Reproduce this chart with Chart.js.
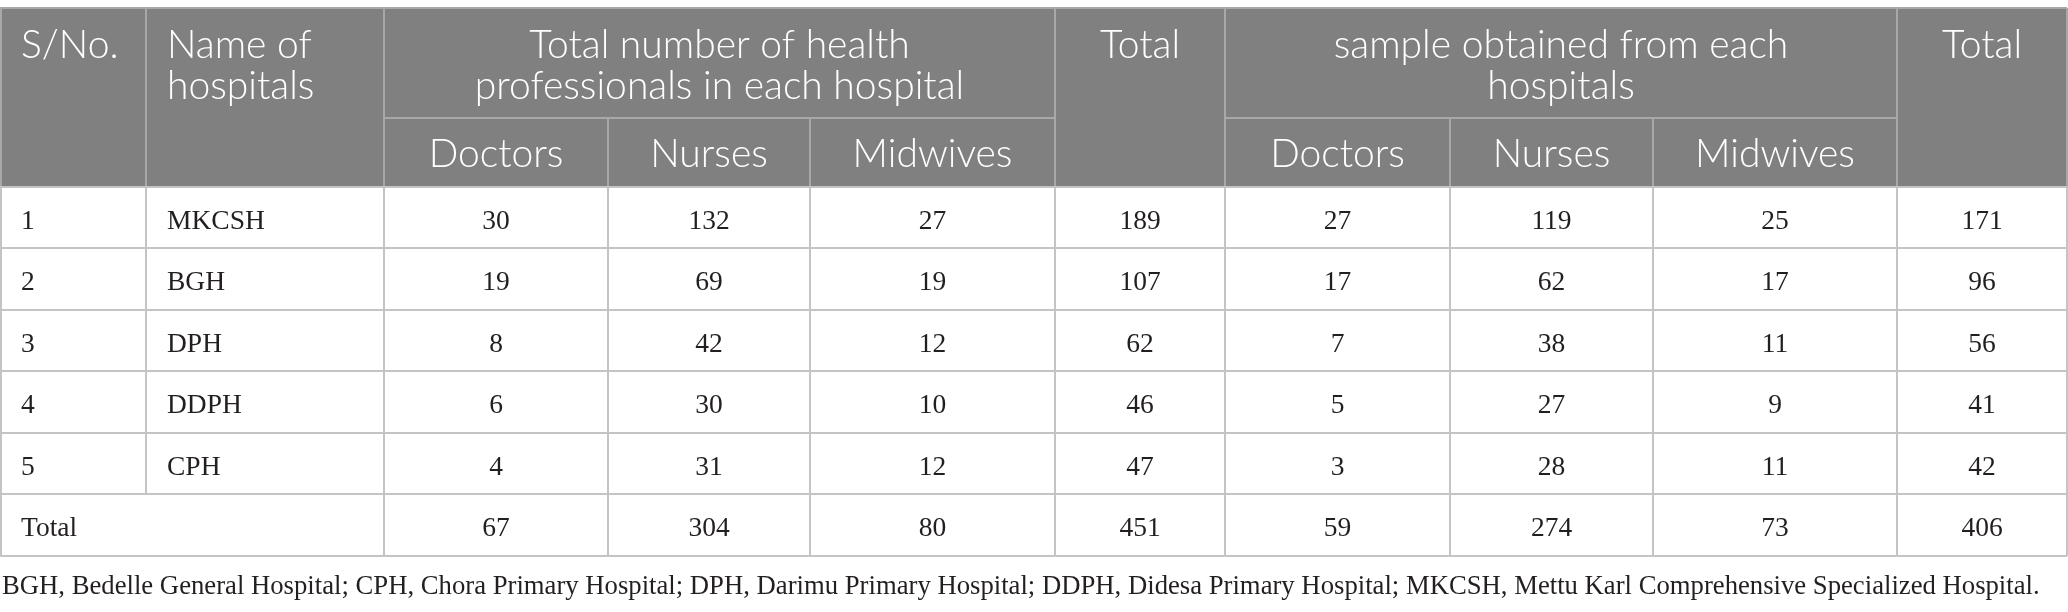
<!DOCTYPE html>
<html>
<head>
<meta charset="utf-8">
<script src="https://cdn.jsdelivr.net/npm/chart.js@4.4.1/dist/chart.umd.min.js"></script>
<style>
  html, body { margin: 0; padding: 0; background: #ffffff; }
  #wrap { width: 2068px; height: 612px; position: relative; }
</style>
</head>
<body>
<div id="wrap"><canvas id="c"></canvas></div>
<script>
// ---------------- DATA ----------------
const serialNos      = ['1', '2', '3', '4', '5'];
const hospitals      = ['MKCSH', 'BGH', 'DPH', 'DDPH', 'CPH'];
const staffDoctors   = [30, 19, 8, 6, 4];
const staffNurses    = [132, 69, 42, 30, 31];
const staffMidwives  = [27, 19, 12, 10, 12];
const staffTotal     = [189, 107, 62, 46, 47];
const sampleDoctors  = [27, 17, 7, 5, 3];
const sampleNurses   = [119, 62, 38, 27, 28];
const sampleMidwives = [25, 17, 11, 9, 11];
const sampleTotal    = [171, 96, 56, 41, 42];
const totalLabel     = 'Total';
const totalsRow      = [67, 304, 80, 451, 59, 274, 73, 406];
const headSerial     = 'S/No.';
const headName       = ['Name of', 'hospitals'];
const headStaff      = ['Total number of health', 'professionals in each hospital'];
const headTotal      = 'Total';
const headSample     = ['sample obtained from each', 'hospitals'];
const subHeaders     = ['Doctors', 'Nurses', 'Midwives'];
const footnote       = 'BGH, Bedelle General Hospital; CPH, Chora Primary Hospital; DPH, Darimu Primary Hospital; DDPH, Didesa Primary Hospital; MKCSH, Mettu Karl Comprehensive Specialized Hospital.';

// ---------------- LAYOUT (scale units) ----------------
const colEdges = [0, 146, 384, 608, 810, 1055, 1225, 1450, 1653, 1897, 2067];
const rowEdges = [8, 118, 187, 248, 310, 371, 433, 494, 556];

const HEADER_BG = '#7f807f';
const HEADER_LINE = '#a7a8a7';
const BODY_LINE = '#c4c4c4';
const BODY_TEXT = '#231f20';
const HEAD_FONT = '300 39px Lato';
const BODY_FONT = '27.5px "Liberation Serif"';
const FOOT_FONT = '26.7px "Liberation Serif"';

const tablePlugin = {
  id: 'tablePlugin',
  afterDraw(chart) {
    const ctx = chart.ctx;
    const xs = chart.scales.x, ys = chart.scales.y;
    const X = v => xs.getPixelForValue(v);
    const Y = v => ys.getPixelForValue(v);
    const C = i => X(colEdges[i]);
    const R = i => Y(rowEdges[i]);
    ctx.save();

    // header background
    ctx.fillStyle = HEADER_BG;
    ctx.fillRect(C(0), R(0), C(10) - C(0), R(2) - R(0));

    const line = (x1, y1, x2, y2, color, w) => {
      ctx.strokeStyle = color; ctx.lineWidth = w;
      ctx.beginPath(); ctx.moveTo(x1, y1); ctx.lineTo(x2, y2); ctx.stroke();
    };

    // header lines
    line(C(0), R(0), C(10), R(0), HEADER_LINE, 2);
    [1, 2, 5, 6, 9].forEach(i => line(C(i), R(0), C(i), R(2), HEADER_LINE, 2));
    [3, 4, 7, 8].forEach(i => line(C(i), R(1), C(i), R(2), HEADER_LINE, 2));
    line(C(2), R(1), C(5), R(1), HEADER_LINE, 2);
    line(C(6), R(1), C(9), R(1), HEADER_LINE, 2);
    line(C(0) + 1, R(0), C(0) + 1, R(2), HEADER_LINE, 2);
    line(C(10), R(0), C(10), R(2), HEADER_LINE, 2);

    // body lines
    for (let r = 2; r < rowEdges.length; r++) line(C(0), R(r), C(10), R(r), BODY_LINE, 2);
    for (let c = 0; c < colEdges.length; c++) {
      const x = c === 0 ? C(0) + 1 : C(c);
      if (c === 1) line(x, R(2), x, R(7), BODY_LINE, 2);
      else line(x, R(2), x, R(8), BODY_LINE, 2);
    }

    // header text
    ctx.fillStyle = '#ffffff';
    ctx.font = HEAD_FONT;
    ctx.textBaseline = 'alphabetic';
    const l1 = Y(58), l2 = Y(99), sub = Y(167);
    ctx.textAlign = 'left';
    ctx.fillText(headSerial, C(0) + 21, l1);
    ctx.fillText(headName[0], C(1) + 21, l1);
    ctx.fillText(headName[1], C(1) + 21, l2);
    ctx.textAlign = 'center';
    const mid = (a, b) => (C(a) + C(b)) / 2;
    ctx.fillText(headStaff[0], mid(2, 5), l1);
    ctx.fillText(headStaff[1], mid(2, 5), l2);
    ctx.fillText(headTotal, mid(5, 6), l1);
    ctx.fillText(headSample[0], mid(6, 9), l1);
    ctx.fillText(headSample[1], mid(6, 9), l2);
    ctx.fillText(headTotal, mid(9, 10), l1);
    subHeaders.forEach((s, k) => {
      ctx.fillText(s, mid(2 + k, 3 + k), sub);
      ctx.fillText(s, mid(6 + k, 7 + k), sub);
    });

    // body text
    ctx.fillStyle = BODY_TEXT;
    ctx.font = BODY_FONT;
    const base = r => (R(r) + R(r + 1)) / 2 + 11;
    hospitals.forEach((h, i) => {
      const y = base(2 + i);
      ctx.textAlign = 'left';
      ctx.fillText(serialNos[i], C(0) + 21, y);
      ctx.fillText(h, C(1) + 21, y);
      ctx.textAlign = 'center';
      const vals = [staffDoctors[i], staffNurses[i], staffMidwives[i], staffTotal[i],
                    sampleDoctors[i], sampleNurses[i], sampleMidwives[i], sampleTotal[i]];
      vals.forEach((v, k) => ctx.fillText(String(v), mid(2 + k, 3 + k), y));
    });
    const yt = base(7);
    ctx.textAlign = 'left';
    ctx.fillText(totalLabel, C(0) + 21, yt);
    ctx.textAlign = 'center';
    totalsRow.forEach((v, k) => ctx.fillText(String(v), mid(2 + k, 3 + k), yt));

    // footnote
    ctx.font = FOOT_FONT;
    ctx.textAlign = 'left';
    ctx.fillText(footnote, X(2), Y(594));
    ctx.restore();
  }
};

new Chart(document.getElementById('c'), {
  type: 'scatter',
  data: { datasets: [] },
  options: {
    responsive: true,
    maintainAspectRatio: false,
    animation: false,
    layout: { padding: 0 },
    plugins: { legend: { display: false }, tooltip: { enabled: false } },
    scales: {
      x: { type: 'linear', min: 0, max: 2068, display: false },
      y: { type: 'linear', min: 0, max: 612, reverse: true, display: false }
    }
  },
  plugins: [tablePlugin]
});
</script>
</body>
</html>
